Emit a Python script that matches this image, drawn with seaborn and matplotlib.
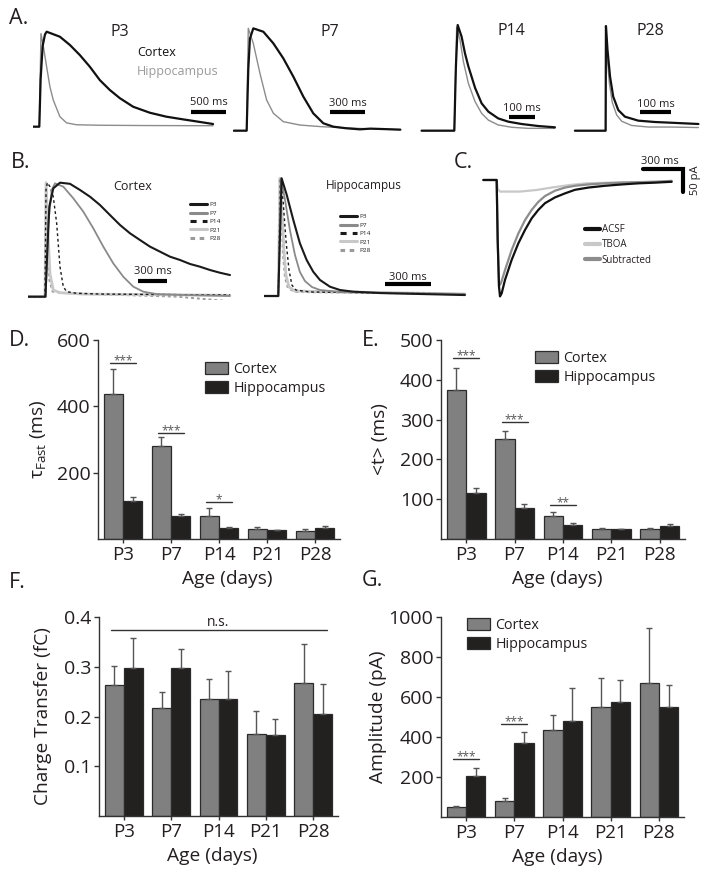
import numpy as np
import pandas as pd
import seaborn as sns
import matplotlib.pyplot as plt

W, H = 714, 874

# --- datos de barras ---
ages = ['P3', 'P7', 'P14', 'P21', 'P28']
regions = ['Cortex', 'Hippocampus']

tau_ctx = [437, 279, 68, 30, 25]
tau_ctx_err = [75, 28, 24, 6, 4]
tau_hip = [116, 70, 34, 26, 32]
tau_hip_err = [12, 6, 3, 2, 6]

mean_t_ctx = [375, 251, 59, 24, 24]
mean_t_ctx_err = [54, 21, 8, 4, 4]
mean_t_hip = [115, 79, 35, 24, 32]
mean_t_hip_err = [13, 9, 4, 2, 6]

charge_ctx = [0.264, 0.217, 0.236, 0.165, 0.268]
charge_ctx_err = [0.038, 0.032, 0.039, 0.046, 0.078]
charge_hip = [0.297, 0.297, 0.236, 0.163, 0.205]
charge_hip_err = [0.061, 0.038, 0.056, 0.032, 0.061]

amp_ctx = [48, 82, 437, 548, 668]
amp_ctx_err = [7, 13, 75, 145, 275]
amp_hip = [207, 372, 480, 577, 550]
amp_hip_err = [36, 55, 165, 108, 112]

# --- trazos panel A (tiempo ms, amplitud normalizada) ---
a_p3_ctx_t = [-90, 0, 19, 48, 81, 105, 295, 438, 580, 724, 866, 1009, 1152, 1342, 1580, 1818, 2056, 2294, 2485]
a_p3_ctx = [0, 0, 0.5, 0.85, 0.97, 1.0, 0.947, 0.86, 0.754, 0.63, 0.49, 0.386, 0.30, 0.21, 0.147, 0.105, 0.077, 0.05, 0.028]
a_p3_hip_t = [-90, 0, 24, 57, 105, 152, 200, 295, 390, 533, 866, 1500, 2485]
a_p3_hip = [0, 0, 0.98, 0.85, 0.63, 0.42, 0.28, 0.105, 0.04, 0.02, 0.015, 0.012, 0.01]

a_p7_ctx_t = [-110, 0, 14, 28, 57, 143, 229, 314, 400, 486, 571, 657, 743, 857, 971, 1060, 1189, 1317]
a_p7_ctx = [0, 0, 0.6, 0.9, 1.0, 0.967, 0.853, 0.707, 0.528, 0.332, 0.169, 0.072, 0.039, 0.023, 0.013, 0.02, 0.015, 0.01]
a_p7_hip_t = [-110, 0, 14, 57, 114, 171, 229, 314, 457, 629, 743, 1000, 1317]
a_p7_hip = [0, 0, 1.0, 0.853, 0.56, 0.3, 0.17, 0.088, 0.055, 0.04, 0.033, 0.02, 0.01]

a_p14_ctx_t = [-126, 0, 6, 13, 28, 41, 54, 80, 105, 131, 169, 208, 259, 323, 387]
a_p14_ctx = [0, 0, 0.6, 1.0, 0.89, 0.732, 0.609, 0.404, 0.259, 0.18, 0.116, 0.085, 0.063, 0.044, 0.032]
a_p14_hip_t = [-126, 0, 9, 22, 35, 54, 80, 105, 131, 169, 221, 285, 387]
a_p14_hip = [0, 0, 0.98, 0.858, 0.653, 0.448, 0.274, 0.164, 0.1, 0.054, 0.032, 0.022, 0.022]

a_p28_ctx_t = [-97, 0, 1, 6, 14, 24, 40, 61, 103, 156, 208, 293]
a_p28_ctx = [0, 0, 1.0, 0.77, 0.516, 0.325, 0.197, 0.134, 0.096, 0.083, 0.076, 0.064]
a_p28_hip_t = [-97, 0, 1, 5, 12, 21, 35, 51, 82, 135, 208, 293]
a_p28_hip = [0, 0, 1.0, 0.7, 0.45, 0.27, 0.15, 0.09, 0.05, 0.035, 0.035, 0.03]

# --- trazos panel B, corteza ---
b_ctx_p3_t = [-180, 5, 25, 46, 88, 159, 265, 371, 477, 583, 689, 795, 901, 1007, 1113, 1219, 1325, 1431, 1537, 1643, 1749, 1855, 1961]
b_ctx_p3 = [0, 0, 0.41, 0.79, 0.95, 1.0, 0.99, 0.936, 0.877, 0.804, 0.716, 0.629, 0.556, 0.497, 0.439, 0.395, 0.351, 0.322, 0.287, 0.263, 0.234, 0.21, 0.19]
b_ctx_p7_t = [-180, 7, 35, 71, 106, 194, 300, 406, 512, 618, 724, 830, 936, 1042, 1183, 1465, 1960]
b_ctx_p7 = [0, 0, 0.64, 0.936, 0.994, 0.965, 0.863, 0.746, 0.6, 0.439, 0.292, 0.175, 0.088, 0.044, 0.023, 0.015, 0.006]
b_ctx_p14_t = [-180, 0, 11, 25, 53, 88, 124, 159, 194, 230, 335, 583, 1960]
b_ctx_p14 = [0, 0, 0.936, 1.0, 0.965, 0.877, 0.643, 0.263, 0.088, 0.044, 0.03, 0.023, 0.015]
b_ctx_p21_t = [-180, 0, 11, 35, 53, 88, 159, 406, 1960]
b_ctx_p21 = [0, 0, 1.0, 0.5, 0.2, 0.058, 0.035, 0.023, 0.012]
b_ctx_p28_t = [-180, 0, 11, 28, 46, 81, 230, 1400, 1960]
b_ctx_p28 = [0, 0, 1.0, 0.44, 0.146, 0.044, 0.03, 0.0, -0.04]

# --- trazos panel B, hipocampo ---
b_hip_p3_t = [-93, 0, 22, 55, 98, 141, 185, 228, 272, 337, 402, 487, 663, 924, 1217]
b_hip_p3 = [0, 0, 1.0, 0.86, 0.646, 0.448, 0.306, 0.206, 0.136, 0.079, 0.051, 0.037, 0.025, 0.017, 0.008]
b_hip_p7_t = [-93, 0, 18, 44, 76, 109, 141, 174, 220, 272, 402, 1217]
b_hip_p7 = [0, 0, 1.0, 0.816, 0.56, 0.348, 0.204, 0.127, 0.076, 0.051, 0.034, 0.017]
b_hip_p14_t = [-93, 0, 14, 31, 50, 70, 89, 115, 207, 1217]
b_hip_p14 = [0, 0, 1.0, 0.816, 0.476, 0.22, 0.093, 0.051, 0.034, 0.017]
b_hip_p21_t = [-93, 0, 11, 24, 37, 50, 70, 109, 1217]
b_hip_p21 = [0, 0, 1.0, 0.73, 0.39, 0.178, 0.076, 0.042, 0.017]
b_hip_p28_t = [-93, 0, 11, 21, 31, 44, 63, 109, 1217]
b_hip_p28 = [0, 0, 1.0, 0.69, 0.348, 0.153, 0.068, 0.034, 0.017]

# --- trazos panel C (ms, pA) ---
c_acsf_t = [-100, 0, 7.5, 17.5, 25, 37.5, 62.5, 112.5, 162.5, 212.5, 262.5, 312.5, 362.5, 437.5, 512.5, 587.5, 687.5, 812.5, 937.5, 1062.5, 1187.5, 1312.5]
c_acsf = [0, 0, -134, -239, -261, -254, -224, -179, -142, -112, -86, -67, -52, -39, -30, -22, -17, -13, -10, -7.5, -6, -4]
c_sub_t = [-100, 0, 7.5, 17.5, 32.5, 62.5, 112.5, 162.5, 212.5, 262.5, 312.5, 362.5, 437.5, 512.5, 587.5, 687.5, 812.5, 937.5, 1062.5, 1187.5, 1312.5]
c_sub = [0, 0, -134, -237, -231, -202, -157, -120, -90, -67, -49, -36, -24, -17, -13, -10, -7.5, -6, -5, -4, -2]
c_tboa_t = [-100, 0, 7.5, 25, 175, 300, 425, 550, 675, 925, 1300]
c_tboa = [0, 0, -20, -26, -26, -22.4, -16.4, -11.2, -7.5, -5.2, -3.7]

# --- estilo ---
sns.set_style('ticks')
plt.rcParams['font.family'] = ['Open Sans', 'DejaVu Sans']
plt.rcParams['mathtext.fontset'] = 'custom'
plt.rcParams['mathtext.rm'] = 'Open Sans'
plt.rcParams['mathtext.it'] = 'Open Sans:italic'
plt.rcParams['text.color'] = '#231f20'
plt.rcParams['axes.labelcolor'] = '#231f20'
plt.rcParams['xtick.color'] = '#231f20'
plt.rcParams['ytick.color'] = '#231f20'

GRAY = '#808080'
BLACK = '#231f20'

fig = plt.figure(figsize=(W / 100, H / 100), dpi=100)


def px_axes(l, t, r, b):
    return fig.add_axes([l / W, 1 - b / H, (r - l) / W, (b - t) / H])


def fig_text(x, y, s, **kw):
    fig.text(x / W, 1 - y / H, s, **kw)


def trace(ax, t, y, **kw):
    sns.lineplot(x=t, y=y, ax=ax, estimator=None, sort=False, **kw)


# letras de panel
for lab, x, y in [('A.', 9, 18), ('B.', 11, 163), ('C.', 454, 162), ('D.', 9, 340),
                  ('E.', 362, 340), ('F.', 9, 583), ('G.', 362, 581)]:
    fig_text(x, y, lab, fontsize=15.5, ha='left', va='center')

# --- Panel A ---
a_panels = [
    ('P3', a_p3_ctx_t, a_p3_ctx, a_p3_hip_t, a_p3_hip, (33, 28, 230, 130), (-90, 2727), (-0.035, 1.039), 500, 2169, 0.155, 0.25, (120, 32)),
    ('P7', a_p7_ctx_t, a_p7_ctx, a_p7_hip_t, a_p7_hip, (233, 26, 402, 132), (-117, 1331), (-0.013, 1.023), 300, 714, 0.183, 0.27, (330, 32)),
    ('P14', a_p14_ctx_t, a_p14_ctx, a_p14_hip_t, a_p14_hip, (420, 23, 557, 133), (-132, 395), (-0.022, 1.019), 100, 211, 0.127, 0.214, (511, 31)),
    ('P28', a_p28_ctx_t, a_p28_ctx, a_p28_hip_t, a_p28_hip, (573, 23, 700, 133), (-103, 298), (-0.022, 1.029), 100, 108, 0.179, 0.255, (650, 31)),
]
for name, ct, cy, ht, hy, box, xl, yl, sb, sb0, sby, sbt, lpos in a_panels:
    ax = px_axes(*box)
    trace(ax, ht, hy, color='#8c8c8c', lw=1.0)
    trace(ax, ct, cy, color='#111111', lw=1.6)
    ax.plot([sb0, sb0 + sb], [sby, sby], color='black', lw=3, solid_capstyle='butt')
    ax.text(sb0 + sb / 2, sbt, f'{sb} ms', ha='center', va='center', fontsize=8)
    ax.set_xlim(*xl)
    ax.set_ylim(*yl)
    ax.set_axis_off()
    fig_text(lpos[0], lpos[1], name, fontsize=11.5, ha='center', va='center')

fig_text(137, 53, 'Cortex', fontsize=9, ha='left', va='center', color='#111111')
fig_text(137, 71, 'Hippocampus', fontsize=9, ha='left', va='center', color='#9a9a9a')

# --- Panel B ---
b_styles = [
    ('P3', dict(color='#1a1a1a', lw=1.5)),
    ('P7', dict(color='#8a8a8a', lw=1.3)),
    ('P14', dict(color='#1a1a1a', lw=1.0, linestyle=(0, (2, 2)))),
    ('P21', dict(color='#c8c8c8', lw=2.0)),
    ('P28', dict(color='#9a9a9a', lw=1.4, linestyle=(0, (1.5, 1.5)))),
]
b_sets = [
    ('Cortex', [(b_ctx_p3_t, b_ctx_p3), (b_ctx_p7_t, b_ctx_p7), (b_ctx_p14_t, b_ctx_p14), (b_ctx_p21_t, b_ctx_p21), (b_ctx_p28_t, b_ctx_p28)],
     (28, 178, 235, 300), (-180, 2014), (-0.029, 1.041), 989, 0.14, 0.217, (133, 186), 9, (190, 202)),
    ('Hippocampus', [(b_hip_p3_t, b_hip_p3), (b_hip_p7_t, b_hip_p7), (b_hip_p14_t, b_hip_p14), (b_hip_p21_t, b_hip_p21), (b_hip_p28_t, b_hip_p28)],
     (264, 175, 468, 300), (-93, 1237), (-0.034, 1.028), 696, 0.099, 0.161, (364, 186), 8.5, (340, 214)),
]
for title, curves, box, xl, yl, sb0, sby, sbt, tpos, tfs, lgpos in b_sets:
    ax = px_axes(*box)
    # se dibujan de atras para adelante
    for (name, st), (t, y) in reversed(list(zip(b_styles, curves))):
        trace(ax, t, y, label=name, **st)
    ax.plot([sb0, sb0 + 300], [sby, sby], color='black', lw=3, solid_capstyle='butt')
    ax.text(sb0 + 150, sbt, '300 ms', ha='center', va='center', fontsize=8)
    ax.set_xlim(*xl)
    ax.set_ylim(*yl)
    ax.set_axis_off()
    hs, ls = ax.get_legend_handles_labels()
    order = [ls.index(n) for n, _ in b_styles]
    ax.legend([hs[i] for i in order], [ls[i] for i in order], loc='upper left',
              bbox_to_anchor=(lgpos[0] / W, 1 - lgpos[1] / H), bbox_transform=fig.transFigure,
              frameon=False, fontsize=4.6, handlelength=2.6, handletextpad=0.4,
              labelspacing=0.45, borderpad=0, borderaxespad=0)
    for lh in ax.get_legend().get_lines():
        lh.set_linewidth(2.2)
    fig_text(tpos[0], tpos[1], title, fontsize=tfs, ha='center', va='center')

# --- Panel C ---
ax = px_axes(480, 155, 700, 300)
trace(ax, c_tboa_t, c_tboa, color='#c8c8c8', lw=1.6, label='TBOA')
trace(ax, c_sub_t, c_sub, color='#8c8c8c', lw=1.6, label='Subtracted')
trace(ax, c_acsf_t, c_acsf, color='#111111', lw=1.6, label='ACSF')
ax.plot([1100, 1400, 1400], [24, 24, -26], color='black', lw=3, solid_joinstyle='miter')
ax.text(1225, 42, '300 ms', ha='center', va='center', fontsize=8)
ax.text(1492, 0, '50 pA', ha='center', va='center', fontsize=8, rotation=90)
ax.set_xlim(-125, 1525)
ax.set_ylim(-269, 56)
ax.set_axis_off()
hs, ls = ax.get_legend_handles_labels()
order = [ls.index(n) for n in ['ACSF', 'TBOA', 'Subtracted']]
ax.legend([hs[i] for i in order], [ls[i] for i in order], loc='upper left',
          bbox_to_anchor=(585 / W, 1 - 224 / H), bbox_transform=fig.transFigure,
          frameon=False, fontsize=7, handlelength=1.5, handletextpad=0.2,
          labelspacing=0.45, borderpad=0, borderaxespad=0)
for lh in ax.get_legend().get_lines():
    lh.set_linewidth(3)


# --- Paneles D-G (barras) ---
def bar_panel(box, ctx, ctx_err, hip, hip_err, ylim, yticks, ylabel, ylab_x, xlab_x, legpos=None):
    ax = px_axes(*box)
    df = pd.DataFrame({'Age': ages * 2,
                       'Region': [regions[0]] * len(ages) + [regions[1]] * len(ages),
                       'value': ctx + hip})
    sns.barplot(data=df, x='Age', y='value', hue='Region', order=ages, hue_order=regions,
                palette=[GRAY, BLACK], errorbar=None, edgecolor='#2b2b2b', linewidth=0.9,
                ax=ax, legend=legpos is not None)
    for cont, err in zip(ax.containers, [ctx_err, hip_err]):
        xs = [b.get_x() + b.get_width() / 2 for b in cont]
        ys = [b.get_height() for b in cont]
        ax.errorbar(xs, ys, yerr=[np.zeros(len(err)), err], fmt='none', ecolor='#555555',
                    elinewidth=1, capsize=2.2, capthick=1, zorder=1)
    ax.set_xlim(-0.52, 4.52)
    ax.set_ylim(*ylim)
    ax.set_yticks(yticks)
    sns.despine(ax=ax)
    for sp in ['left', 'bottom']:
        ax.spines[sp].set_color('#333333')
        ax.spines[sp].set_linewidth(1)
    ax.tick_params(axis='y', labelsize=14, length=3.5, width=1, pad=2, color='#333333')
    ax.tick_params(axis='x', labelsize=13.5, length=3, width=1, pad=2, color='#333333')
    l, t, r, b = box
    ax.set_ylabel(ylabel, fontsize=13.8, va='center')
    ax.yaxis.set_label_coords((ylab_x - l) / (r - l), 0.5)
    ax.set_xlabel('Age (days)', fontsize=13.8, va='center')
    ax.xaxis.set_label_coords((xlab_x - l) / (r - l), -(40 / (b - t)))
    if legpos is not None:
        hs, ls = ax.get_legend_handles_labels()
        ax.legend(hs, ls, loc='upper left', bbox_to_anchor=(legpos[0] / W, 1 - legpos[1] / H),
                  bbox_transform=fig.transFigure, frameon=False, fontsize=10.3,
                  handlelength=1.6, handleheight=0.95, handletextpad=0.4,
                  labelspacing=0.25, borderpad=0, borderaxespad=0)
    return ax


def sig(ax, i, y, s, half=0.27):
    ax.plot([i - half, i + half], [y, y], color='#333333', lw=1)
    ax.annotate(s, (i, y), xytext=(0, -1), textcoords='offset points', ha='center',
                va='baseline', fontsize=8.5, color='#555555')


axD = bar_panel((98, 340, 340, 539), tau_ctx, tau_ctx_err, tau_hip, tau_hip_err,
                (0, 600), [200, 400, 600], r'$\mathrm{\tau}_{\mathrm{Fast}}$ (ms)', 38, 227, (205, 362))
sig(axD, 0, 532, '***')
sig(axD, 1, 319, '***')
sig(axD, 2, 113, '*')

axE = bar_panel((441, 340, 685, 539), mean_t_ctx, mean_t_ctx_err, mean_t_hip, mean_t_hip_err,
                (0, 500), [100, 200, 300, 400, 500], '<t> (ms)', 380, 557, (535, 351))
sig(axE, 0, 456, '***')
sig(axE, 1, 295, '***')
sig(axE, 2, 86, '**')

axF = bar_panel((99, 617, 338, 816), charge_ctx, charge_ctx_err, charge_hip, charge_hip_err,
                (0, 0.4), [0.1, 0.2, 0.3, 0.4], 'Charge Transfer (fC)', 43, 212)
axF.plot([-0.26, 4.29], [0.373, 0.373], color='#333333', lw=1)
axF.annotate('n.s.', (2.0, 0.373), xytext=(0, 3), textcoords='offset points', ha='center',
             va='baseline', fontsize=10)

axG = bar_panel((441, 617, 684, 817), amp_ctx, amp_ctx_err, amp_hip, amp_hip_err,
                (0, 1000), [200, 400, 600, 800, 1000], 'Amplitude (pA)', 378, 557, (467, 618))
sig(axG, 0, 288, '***')
sig(axG, 1, 467, '***')

fig.savefig('out.png', dpi=100)
